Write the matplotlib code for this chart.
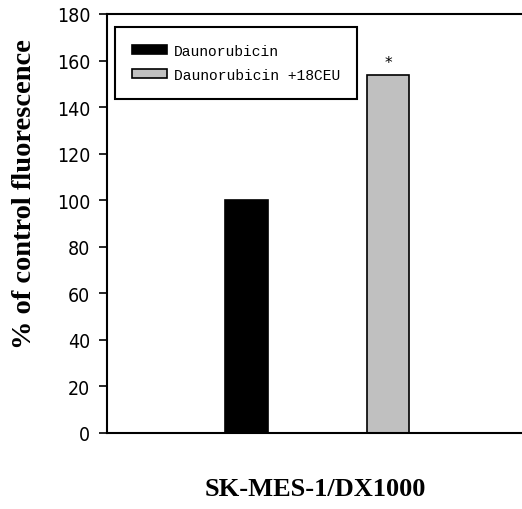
import matplotlib
matplotlib.use("Agg")
import matplotlib.pyplot as plt

categories = ["Daunorubicin", "Daunorubicin +18CEU"]
values = [100, 154]
colors = ["#000000", "#c0c0c0"]
yticks = [0, 20, 40, 60, 80, 100, 120, 140, 160, 180]
xlabel = "SK-MES-1/DX1000"
ylabel = "% of control fluorescence"

fig = plt.figure(figsize=(5.22, 5.10), dpi=100)
ax = fig.add_axes([107/522, 1-434/510, 1-107/522, (434-15)/510])

pos = [0, 1]
bars = ax.bar(pos, values, width=0.30, color=colors, edgecolor="black",
              linewidth=1.2, label=categories)
ax.set_xlim(-0.986, 1.947)
ax.set_ylim(0, 180)
ax.set_yticks(yticks)
ax.set_yticklabels([str(t) for t in yticks], fontsize=14,
                   family="DejaVu Sans", stretch="condensed")
ax.set_xticks([])
ax.tick_params(axis="y", length=6, width=1.2, pad=6)
for s in ["left", "bottom", "top"]:
    ax.spines[s].set_linewidth(1.5)
ax.spines["right"].set_visible(False)

ax.text(1, values[1] + 2, "*", ha="center", va="bottom", fontsize=11)

leg = ax.legend(handles=list(bars), labels=categories, loc="upper left",
                bbox_to_anchor=(0.019, 0.969), frameon=True, framealpha=1,
                fancybox=False, edgecolor="black", handlelength=2.4,
                handleheight=0.6, handletextpad=0.5, borderpad=1.15,
                labelspacing=0.7, borderaxespad=0,
                prop={"family": "Liberation Mono", "size": 10.5})
leg.get_frame().set_linewidth(1.5)

fig.text(315/522, 1-490/510, xlabel, ha="center", va="center",
         fontsize=19, fontweight="bold", family="Liberation Serif")
fig.text(25/522, 1-194/510, ylabel, ha="center", va="center", rotation=90,
         fontsize=20.5, fontweight="bold", family="Liberation Serif")

fig.savefig("out.png", dpi=100)
